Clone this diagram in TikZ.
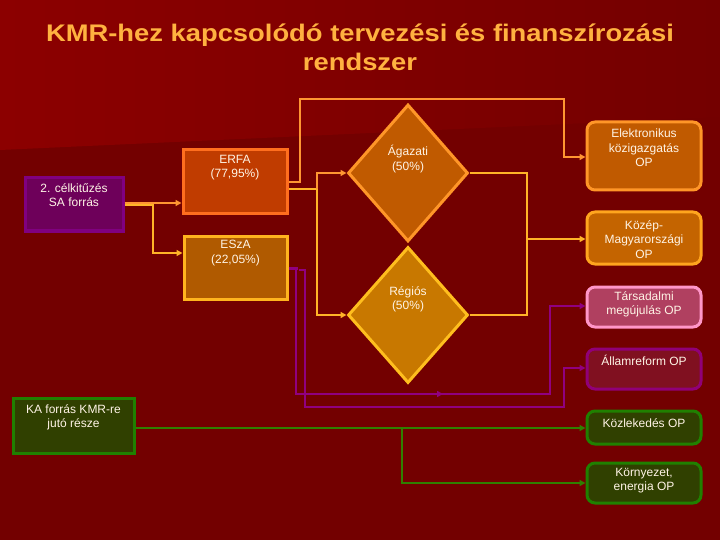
\documentclass[tikz,border=0pt]{standalone}
\usepackage{fontspec}
\setmainfont{Liberation Sans}
\usetikzlibrary{shapes.geometric,arrows.meta}
\definecolor{bgdark}{RGB}{115,0,0}
\definecolor{bglight}{RGB}{140,0,0}
\definecolor{bgmid}{RGB}{116,0,0}
\definecolor{titlecol}{RGB}{255,178,64}
\definecolor{txtcol}{RGB}{255,244,230}
\definecolor{safill}{RGB}{110,0,90}
\definecolor{saline}{RGB}{128,0,128}
\definecolor{erfafill}{RGB}{192,60,0}
\definecolor{erfaline}{RGB}{255,110,30}
\definecolor{eszafill}{RGB}{176,90,0}
\definecolor{eszaline}{RGB}{255,180,30}
\definecolor{agfill}{RGB}{192,90,0}
\definecolor{agline}{RGB}{255,150,40}
\definecolor{regfill}{RGB}{200,120,0}
\definecolor{regline}{RGB}{255,190,30}
\definecolor{kmfill}{RGB}{196,100,0}
\definecolor{kmline}{RGB}{255,165,30}
\definecolor{tarfill}{RGB}{176,64,96}
\definecolor{tarline}{RGB}{255,150,200}
\definecolor{allfill}{RGB}{128,16,32}
\definecolor{allline}{RGB}{144,0,120}
\definecolor{grfill}{RGB}{48,64,0}
\definecolor{grline}{RGB}{32,128,0}
\definecolor{conor}{RGB}{255,150,50}
\definecolor{conye}{RGB}{255,180,40}
\definecolor{conpu}{RGB}{144,0,128}
\definecolor{congr}{RGB}{48,128,0}
\tikzset{
  boxs/.style={draw, line width=3pt, inner sep=0pt},
  opbox/.style={boxs, rounded corners=8pt, minimum width=114pt},
  dia/.style={draw, line width=3pt, shape=diamond, inner sep=0pt, minimum width=120pt, minimum height=137pt},
  txt/.style={text=txtcol, font=\fontsize{12}{14.5}\selectfont, align=center, inner sep=0pt, anchor=north},
  conn/.style={line width=2pt, -{Triangle[length=6pt,width=6pt]}},
  plain/.style={line width=2pt}
}
\begin{document}
\begin{tikzpicture}[x=1pt,y=-1pt]
\useasboundingbox (0,0) rectangle (720,540);
\fill[bgdark] (0,0) rectangle (720,540);
\shade[left color=bglight, right color=bgmid] (0,0) -- (720,0) -- (720,117) -- (0,150) -- cycle;
% title
\node[text=titlecol, font=\bfseries\fontsize{24}{29}\selectfont, align=center, anchor=center] (title) at (360,47)
  {\scalebox{1.14}[1]{KMR-hez kapcsolódó tervezési és finanszírozási}\\\scalebox{1.14}[1]{rendszer}};
% boxes
\node[boxs, draw=saline, fill=safill, minimum width=98pt, minimum height=53pt] (sa) at (74,204.5) {};
\node[txt] (saT) at (74,183) {2. célkitűzés\\SA forrás};
\node[boxs, draw=erfaline, fill=erfafill, minimum width=104pt, minimum height=64pt] (erfa) at (235,182) {};
\node[txt] (erfaT) at (235,155) {ERFA\\(77,95\%)};
\node[boxs, draw=eszaline, fill=eszafill, minimum width=103pt, minimum height=63pt] (esza) at (235.5,267.5) {};
\node[txt] (eszaT) at (235.5,240) {ESzA\\(22,05\%)};
\node[dia, draw=agline, fill=agfill] (ag) at (408,173) {};
\node[txt] (agT) at (408,145) {Ágazati\\(50\%)};
\node[dia, draw=regline, fill=regfill, minimum height=136pt] (reg) at (408,315) {};
\node[txt] (regT) at (408,286) {Régiós\\(50\%)};
\node[opbox, draw=agline, fill=agfill, minimum height=68pt] (ekp) at (644,156) {};
\node[txt] (ekpT) at (644,129) {Elektronikus\\közigazgatás\\OP};
\node[opbox, draw=kmline, fill=kmfill, minimum height=52pt] (kmop) at (644,238) {};
\node[txt] (kmopT) at (644,220) {Közép-\\Magyarországi\\OP};
\node[opbox, draw=tarline, fill=tarfill, minimum height=40pt] (tar) at (644,307) {};
\node[txt] (tarT) at (644,291) {Társadalmi\\megújulás OP};
\node[opbox, draw=allline, fill=allfill, minimum height=40pt] (all) at (644,369) {};
\node[txt] (allT) at (644,355) {Államreform OP};
\node[opbox, draw=grline, fill=grfill, minimum height=33pt] (kozl) at (644,427.5) {};
\node[txt] (kozlT) at (644,418) {Közlekedés OP};
\node[opbox, draw=grline, fill=grfill, minimum height=40pt] (korny) at (644,483) {};
\node[txt] (kornyT) at (644,468) {Környezet,\\energia OP};
\node[boxs, draw=grline, fill=grfill, minimum width=121pt, minimum height=55pt] (ka) at (73.5,425.5) {};
\node[txt] (kaT) at (73.5,404) {KA forrás KMR-re\\jutó része};
% connectors: SA
\draw[conn, conor] (sa.east |- 0,203) -- (erfa.west |- 0,203);
\draw[conn, conye] (sa.east |- 0,205.5) -| (153,253) -- (esza.west |- 0,253);
% ERFA -> Elektronikus
\draw[conn, conor] (erfa.east |- 0,182) -| (300,99) -| (564,157) -- (ekp.west |- 0,157);
% ERFA -> diamonds
\draw[plain, conye] (erfa.east |- 0,189) -- (317,189);
\draw[conn, conor] (317,189) |- (ag.west);
\draw[conn, conye] (317,189) |- (reg.west);
% diamonds -> KMOP
\draw[plain, conye] (ag.east) -| (527,315) -- (reg.east);
\draw[conn, conye] (527,239) -- (kmop.west |- 0,239);
% ESzA -> purple
\draw[plain, conpu, line width=3pt] (esza.east |- 0,268) -- (298,268);
\draw[conn, conpu] (296,268) |- (550,394) |- (tar.west |- 0,306);
\draw[conpu, -{Triangle[length=6pt,width=6pt]}, line width=2pt] (420,394) -- (443,394);
\draw[conn, conpu] (299,270) -| (305,407) -| (564,368) -- (all.west |- 0,368);
% green
\draw[conn, congr] (ka.east |- 0,428) -- (kozl.west |- 0,428);
\draw[conn, congr] (402,428) |- (korny.west |- 0,483);
\end{tikzpicture}
\end{document}
